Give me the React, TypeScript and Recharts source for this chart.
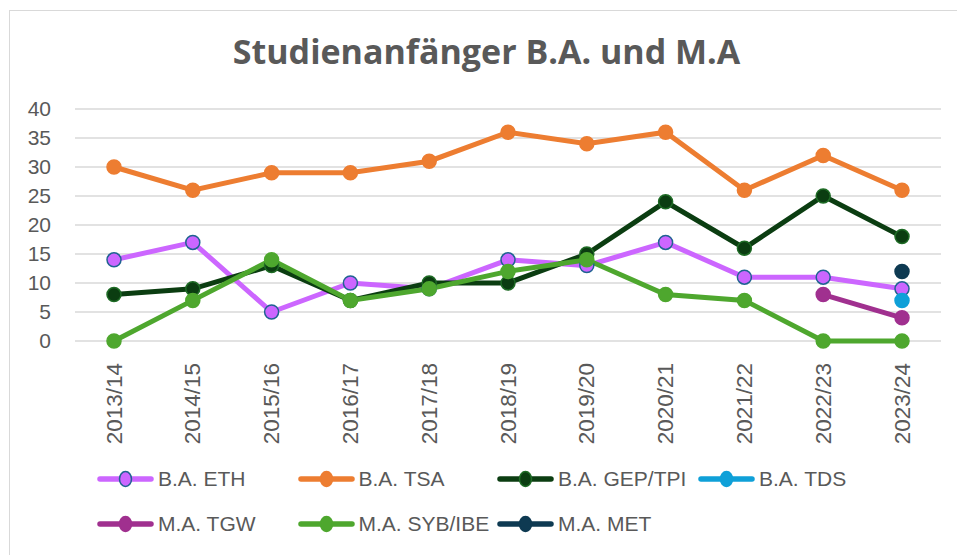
import React from "react";
import { LineChart, Line, XAxis, YAxis, CartesianGrid, Legend } from "recharts";

const categories = ["2013/14", "2014/15", "2015/16", "2016/17", "2017/18", "2018/19", "2019/20", "2020/21", "2021/22", "2022/23", "2023/24"];
const baETH = [14, 17, 5, 10, 9, 14, 13, 17, 11, 11, 9];
const baTSA = [30, 26, 29, 29, 31, 36, 34, 36, 26, 32, 26];
const baGEP = [8, 9, 13, 7, 10, 10, 15, 24, 16, 25, 18];
const baTDS = [null, null, null, null, null, null, null, null, null, null, 7];
const maTGW = [null, null, null, null, null, null, null, null, null, 8, 4];
const maSYB = [0, 7, 14, 7, 9, 12, 14, 8, 7, 0, 0];
const maMET = [null, null, null, null, null, null, null, null, null, null, 12];
const yTicks = [0, 5, 10, 15, 20, 25, 30, 35, 40];

const data = categories.map((c, i) => ({
  cat: c,
  eth: baETH[i],
  tsa: baTSA[i],
  gep: baGEP[i],
  tds: baTDS[i],
  tgw: maTGW[i],
  syb: maSYB[i],
  met: maMET[i],
}));

const series = [
  { key: "eth", name: "B.A. ETH", color: "#CC66FF", mStroke: "#1F6391" },
  { key: "tsa", name: "B.A. TSA", color: "#ED7D31", mStroke: "#ED7D31" },
  { key: "gep", name: "B.A. GEP/TPI", color: "#0B3D11", mStroke: "#1E6B25" },
  { key: "tds", name: "B.A. TDS", color: "#0FA0D8", mStroke: "#0FA0D8" },
  { key: "tgw", name: "M.A. TGW", color: "#A0308F", mStroke: "#A0308F" },
  { key: "syb", name: "M.A. SYB/IBE", color: "#4EA72E", mStroke: "#4EA72E" },
  { key: "met", name: "M.A. MET", color: "#0E3A52", mStroke: "#0E3A52" },
];

const FONT = "'Liberation Sans', Arial, sans-serif";
const TXT = "#595959";

const XTick = (props: any) => {
  const { x, y, payload } = props;
  const ty = y + 14;
  return (
    <text
      x={x}
      y={ty}
      transform={`rotate(-90, ${x}, ${ty})`}
      textAnchor="end"
      dominantBaseline="central"
      fontSize={22.5}
      fontFamily={FONT}
      fill={TXT}
    >
      {payload.value}
    </text>
  );
};

const LegendContent = () => {
  const xs = [97, 297.5, 497, 698];
  return (
    <div style={{ position: "relative", width: 957, height: 100 }}>
      {series.map((s, i) => {
        const row = Math.floor(i / 4);
        const col = i % 4;
        const left = xs[col];
        const cy = row === 0 ? 24 : 69;
        return (
          <div key={s.key} style={{ position: "absolute", left, top: cy - 14, height: 28, display: "flex", alignItems: "center" }}>
            <svg width={57} height={28} style={{ display: "block" }}>
              <line x1={3} y1={14} x2={54} y2={14} stroke={s.color} strokeWidth={5.5} strokeLinecap="round" />
              <ellipse cx={28.5} cy={14} rx={6} ry={7.5} fill={s.color} stroke={s.mStroke} strokeWidth={1.5} />
            </svg>
            <span style={{ marginLeft: 4, fontFamily: FONT, fontSize: 21, lineHeight: "28px", color: TXT, whiteSpace: "nowrap" }}>{s.name}</span>
          </div>
        );
      })}
    </div>
  );
};

export default function App() {
  return (
    <div style={{ position: "relative", width: 957, height: 555, background: "#fff", overflow: "hidden" }}>
      <style>{`body{margin:0}`}</style>
      <div style={{ position: "absolute", left: 9, top: 10, width: 1000, height: 600, borderTop: "1.5px solid #D9D9D9", borderLeft: "1.5px solid #D9D9D9" }} />
      <svg width={957} height={90} style={{ position: "absolute", left: 0, top: 0 }}>
        <text x={486.5} y={64} textAnchor="middle" fontFamily="'Open Sans', sans-serif" fontWeight={700} fontSize={34} fill={TXT}>
          Studienanfänger B.A. und M.A
        </text>
      </svg>
      <div style={{ position: "absolute", left: 0, top: 0 }}>
        <LineChart width={957} height={555} data={data} margin={{ top: 109, right: 16, left: 0, bottom: 0 }}>
          <CartesianGrid vertical={false} stroke="#D9D9D9" strokeWidth={1.5} />
          <XAxis dataKey="cat" height={114} axisLine={false} tickLine={false} tick={<XTick />} interval={0} padding={{ left: 39, right: 39 }} />
          <YAxis
            width={75}
            domain={[0, 40]}
            ticks={yTicks}
            interval={0}
            axisLine={false}
            tickLine={false}
            tickSize={0}
            tickMargin={24}
            tick={{ fontSize: 21, fontFamily: FONT, fill: TXT }}
          />
          <Legend verticalAlign="bottom" height={100} content={<LegendContent />} wrapperStyle={{ left: 0, width: 957 }} />
          {series.map((s) => (
            <Line
              key={s.key}
              dataKey={s.key}
              name={s.name}
              stroke={s.color}
              strokeWidth={5}
              isAnimationActive={false}
              dot={{ r: 7, fill: s.color, stroke: s.mStroke, strokeWidth: 1.5 }}
              activeDot={false}
            />
          ))}
        </LineChart>
      </div>
    </div>
  );
}
